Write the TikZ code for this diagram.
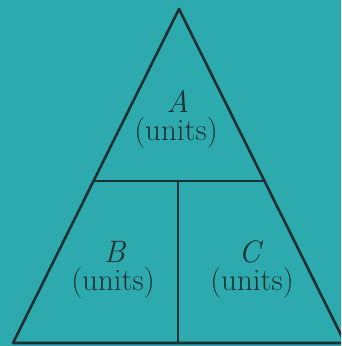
\documentclass[tikz,border=0pt]{standalone}
\usepackage{tikz}
\definecolor{bgteal}{RGB}{44,170,174}
\definecolor{inkdark}{RGB}{32,48,50}
\begin{document}
\begin{tikzpicture}[x=1pt,y=-1pt, every node/.style={font=\fontsize{31}{34}\selectfont,text=inkdark,inner sep=0pt}, edge/.style={draw=inkdark,line width=2.6pt,line join=round}, lbl/.style={anchor=base}]
\useasboundingbox (0,0) rectangle (341,346);
\fill[bgteal] (0,0) rectangle (341,346);
\clip (0,0) rectangle (341,346);
\coordinate (top) at (179,9);
\coordinate (bl) at (13,343);
\coordinate (br) at (345,343);
\coordinate (ml) at (93.5,181);
\coordinate (mr) at (264,181);
\coordinate (mid) at (178,181);
\coordinate (mb) at (178,343);
\draw[edge] (top) -- (bl) -- (br) -- cycle;
\draw[edge] (ml) -- (mr);
\draw[edge] (mid) -- (mb);
\node[lbl] (a) at (178,112) {\textit{A}};
\node[lbl] (aunit) at (176,140) {(units)};
\node[lbl] (b) at (115,262) {\textit{B}};
\node[lbl] (bunit) at (113,290) {(units)};
\node[lbl] (c) at (251,262) {\textit{C}};
\node[lbl] (cunit) at (252,290) {(units)};
\end{tikzpicture}
\end{document}
